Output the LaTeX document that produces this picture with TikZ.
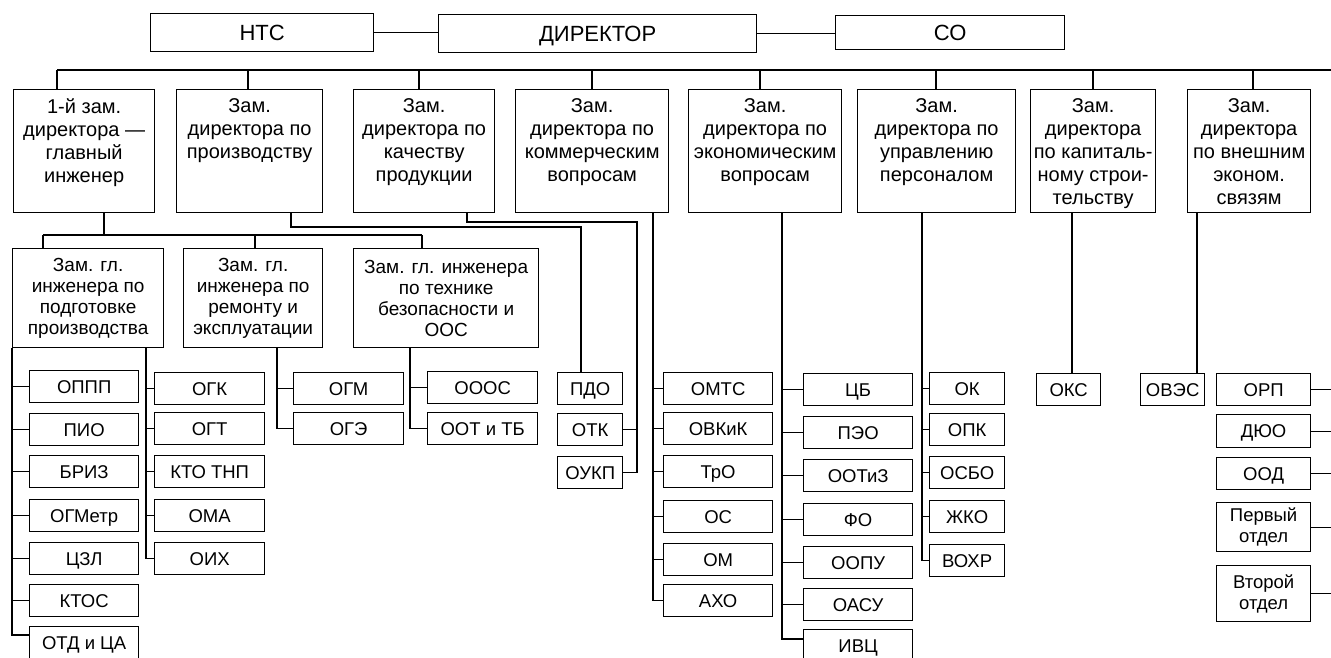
\documentclass[tikz,border=0pt]{standalone}
\usepackage{fontspec}
\setmainfont{Liberation Sans}
\usetikzlibrary{positioning}
\tikzset{
  box/.style={draw, line width=1.3pt, inner sep=2pt, align=center, anchor=north west,
    font=\fontsize{18.5}{21}\selectfont},
  head/.style={box, text height=16pt, text depth=0pt, font=\fontsize{22}{26}\selectfont},
  chief/.style={box, minimum height=123},
  chieftxt/.style={draw=none, anchor=north, align=center, inner sep=0pt, yshift=-9pt,
    font=\fontsize{20}{23}\selectfont},
  deputy/.style={box, minimum height=99, font=\fontsize{19}{21}\selectfont},
  dept/.style={box, minimum height=32, text height=13pt, text depth=0pt},
  pair/.style={box, minimum height=49},
  link/.style={line width=1.3pt},
}
\begin{document}
\begin{tikzpicture}[x=1pt, y=-1pt]
\useasboundingbox (0,0) rectangle (1331,657);
\clip (0,0) rectangle (1331,657);
% ---- top row
\node[head, minimum width=223, minimum height=38] (nts) at (150,13) {НТС};
\node[head, minimum width=318, minimum height=38] (dir) at (438,14) {ДИРЕКТОР};
\node[head, minimum width=229, minimum height=34] (so) at (835,15) {СО};
\draw[link] (nts.east) -- (nts.east -| dir.west);
\draw[link] (dir.east) -- (dir.east -| so.west);
% ---- deputy directors
\node[chief, minimum width=141, label={[chieftxt]north:{1-й зам.\\директора —\\главный\\инженер}}] (zam1) at (13,89) {};
\node[chief, minimum width=146, label={[chieftxt]north:{Зам.\\директора по\\производству}}] (zprod) at (176,89) {};
\node[chief, minimum width=141, label={[chieftxt]north:{Зам.\\директора по\\качеству\\продукции}}] (zqual) at (353,89) {};
\node[chief, minimum width=153, label={[chieftxt]north:{Зам.\\директора по\\коммерческим\\вопросам}}] (zcomm) at (515,89) {};
\node[chief, minimum width=153, label={[chieftxt]north:{Зам.\\директора по\\экономическим\\вопросам}}] (zecon) at (688,89) {};
\node[chief, minimum width=158, label={[chieftxt]north:{Зам.\\директора по\\управлению\\персоналом}}] (zpers) at (857,89) {};
\node[chief, minimum width=125, label={[chieftxt]north:{Зам.\\директора\\по капиталь-\\ному строи-\\тельству}}] (zcap) at (1030,89) {};
\node[chief, minimum width=123, label={[chieftxt]north:{Зам.\\директора\\по внешним\\эконом.\\связям}}] (zext) at (1187,89) {};
\coordinate (busL) at (57,70);
\coordinate (busR) at (1331,70);
\draw[link] (busL) -- (busR);
\foreach \x/\n in {57/zam1, 248/zprod, 419/zqual, 592/zcomm, 760/zecon, 936/zpers, 1093/zcap, 1253/zext}
  \draw[link] (\x,70) -- (\n.north -| \x,70);
% ---- deputies of the chief engineer
\node[deputy, minimum width=151] (zprep) at (12,248) {Зам. гл.\\инженера по\\подготовке\\производства};
\node[deputy, minimum width=139] (zrep) at (183,248) {Зам. гл.\\инженера по\\ремонту и\\эксплуатации};
\node[deputy, minimum width=185] (zsafe) at (353,248) {Зам. гл. инженера\\по технике\\безопасности и\\ООС};
\coordinate (feed) at (104,235);
\coordinate (bus3L) at (43,235);
\coordinate (bus3R) at (422,235);
\draw[link] (zam1.south -| feed) -- (feed);
\draw[link] (bus3L) -- (bus3R);
\draw[link] (bus3L) -- (bus3L |- zprep.north);
\draw[link] (255,235) -- (zrep.north -| 255,235);
\draw[link] (bus3R) -- (bus3R |- zsafe.north);
% ---- departments: preparation of production
\node[dept, minimum width=109] (oppp) at (29,370) {ОППП};
\node[dept, minimum width=109] (pio) at (29,413) {ПИО};
\node[dept, minimum width=109] (briz) at (29,455) {БРИЗ};
\node[dept, minimum width=109] (ogmetr) at (29,499) {ОГМетр};
\node[dept, minimum width=109] (czl) at (29,542) {ЦЗЛ};
\node[dept, minimum width=109] (ktos) at (29,584) {КТОС};
\node[dept, minimum width=109] (otdca) at (29,626) {ОТД и ЦА};
\draw[link] (zprep.south west) |- ([yshift=-9pt]otdca.north west);
\foreach \n in {oppp, pio, briz, ogmetr, czl, ktos}
  \draw[link] (\n.west) -- (\n.west -| zprep.south west);
\node[dept, minimum width=110] (ogk) at (154,372) {ОГК};
\node[dept, minimum width=110] (ogt) at (154,412) {ОГТ};
\node[dept, minimum width=110] (ktotnp) at (154,455) {КТО ТНП};
\node[dept, minimum width=110] (oma) at (154,499) {ОМА};
\node[dept, minimum width=110] (oih) at (154,542) {ОИХ};
\draw[link] (zprep.south -| 146,0) |- (oih.west);
\foreach \n in {ogk, ogt, ktotnp, oma}
  \draw[link] (\n.west) -- (\n.west -| 146,0);
% ---- repair, safety
\node[dept, minimum width=110] (ogm) at (293,372) {ОГМ};
\node[dept, minimum width=110] (oge) at (293,412) {ОГЭ};
\draw[link] (zrep.south -| 277,0) |- (oge.west);
\draw[link] (ogm.west) -- (ogm.west -| 277,0);
\node[dept, minimum width=110] (ooos) at (427,371) {ОООС};
\node[dept, minimum width=110] (ootb) at (427,412) {ООТ и ТБ};
\draw[link] (zsafe.south -| 410,0) |- (ootb.west);
\draw[link] (ooos.west) -- (ooos.west -| 410,0);
% ---- production and quality
\node[dept, minimum width=65] (pdo) at (557,372) {ПДО};
\node[dept, minimum width=65] (otk) at (557,413) {ОТК};
\node[dept, minimum width=65] (oukp) at (557,456) {ОУКП};
\draw[link] (zprod.south -| 291,0) |- (581,227) -- (pdo.north -| 581,0);
\draw[link] (zqual.south -| 467,0) |- (637,222) |- (oukp.east);
\draw[link] (otk.east) -- (otk.east -| 637,0);
% ---- commerce
\node[dept, minimum width=109] (omts) at (663,372) {ОМТС};
\node[dept, minimum width=109] (ovkik) at (663,412) {ОВКиК};
\node[dept, minimum width=109] (tro) at (663,455) {ТрО};
\node[dept, minimum width=109] (os) at (663,500) {ОС};
\node[dept, minimum width=109] (om) at (663,543) {ОМ};
\node[dept, minimum width=109] (aho) at (663,584) {АХО};
\draw[link] (zcomm.south -| 653,0) |- (aho.west);
\foreach \n in {omts, ovkik, tro, os, om}
  \draw[link] (\n.west) -- (\n.west -| 653,0);
% ---- economics
\node[dept, minimum width=109] (cb) at (803,373) {ЦБ};
\node[dept, minimum width=109] (peo) at (803,416) {ПЭО};
\node[dept, minimum width=109] (ootiz) at (803,459) {ООТиЗ};
\node[dept, minimum width=109] (fo) at (803,503) {ФО};
\node[dept, minimum width=109] (oopu) at (803,546) {ООПУ};
\node[dept, minimum width=109] (oasu) at (803,588) {ОАСУ};
\node[dept, minimum width=109] (ivc) at (803,629) {ИВЦ};
\draw[link] (zecon.south -| 782,0) |- ([yshift=-10pt]ivc.north west);
\foreach \n in {cb, peo, ootiz, fo, oopu, oasu}
  \draw[link] (\n.west) -- (\n.west -| 782,0);
% ---- personnel
\node[dept, minimum width=75] (ok) at (929,372) {ОК};
\node[dept, minimum width=75] (opk) at (929,413) {ОПК};
\node[dept, minimum width=75] (osbo) at (929,456) {ОСБО};
\node[dept, minimum width=75] (zhko) at (929,500) {ЖКО};
\node[dept, minimum width=75] (vohr) at (929,544) {ВОХР};
\draw[link] (zpers.south -| 922,0) |- (vohr.west);
\foreach \n in {ok, opk, osbo, zhko}
  \draw[link] (\n.west) -- (\n.west -| 922,0);
% ---- construction, foreign relations
\node[dept, minimum width=64] (oks) at (1036,373) {ОКС};
\draw[link] (zcap.south -| 1072,0) -- (oks.north -| 1072,0);
\node[dept, minimum width=64] (oves) at (1140,373) {ОВЭС};
\draw[link] (zext.south -| 1197,0) -- (oves.north -| 1197,0);
\node[dept, minimum width=94] (orp) at (1216,373) {ОРП};
\node[dept, minimum width=94, minimum height=33] (duo) at (1216,414) {ДЮО};
\node[dept, minimum width=94] (ood) at (1216,457) {ООД};
\node[pair, minimum width=94] (perv) at (1216,502) {Первый\\отдел};
\node[pair, minimum width=94, minimum height=56] (vtor) at (1216,565) {Второй\\отдел};
\foreach \n in {orp, duo, ood, perv, vtor}
  \draw[link] (\n.east) -- (\n.east -| busR);
\end{tikzpicture}
\end{document}
